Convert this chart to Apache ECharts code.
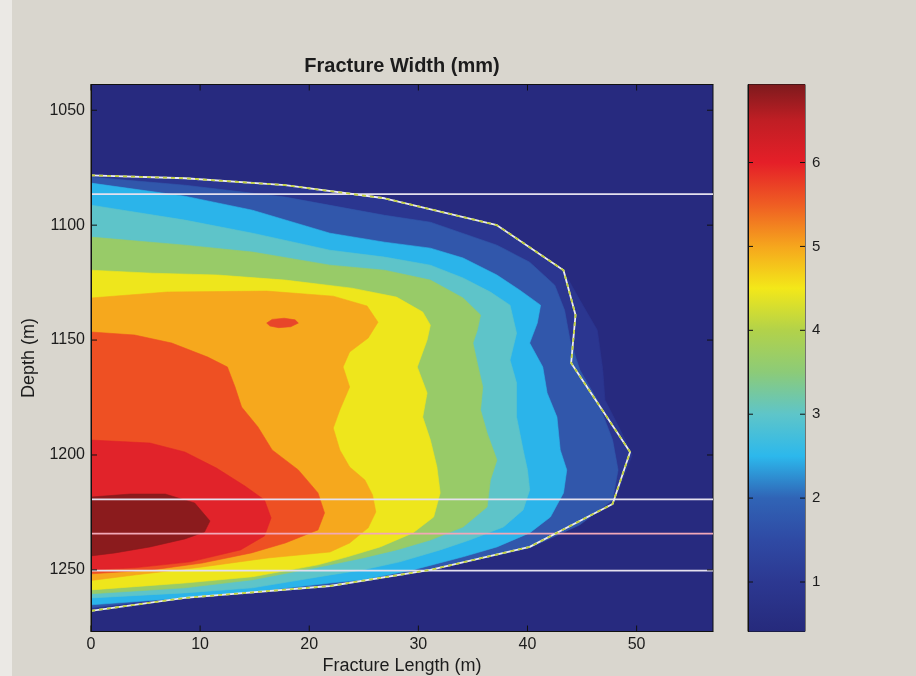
<!DOCTYPE html>
<html><head><meta charset="utf-8">
<script src="https://cdn.jsdelivr.net/npm/echarts@6/dist/echarts.min.js"></script>
<style>html,body{margin:0;padding:0;background:#d9d6ce}#c{width:916px;height:676px}</style>
</head><body><div id="c"></div>
<script>
// ---- axes / ticks ----
const xTicks = [0, 10, 20, 30, 40, 50];
const yTicks = [1050, 1100, 1150, 1200, 1250];
const cbTicks = [1, 2, 3, 4, 5, 6];
const lengthRange = [0, 57];
const depthRange = [1038.8, 1276.8];
const widthRange = [0.41, 6.93];

// ---- contour band outlines [fracture length m, depth m] (width >= level) ----
const band1 = [[0,1078.5],[8.6,1080.0],[17.8,1083.0],[26.9,1088.7],[37.2,1100.4],[43.3,1120.0],[44.8,1132.6],[46.4,1145.7],[46.9,1163.0],[47.1,1176.1],[48.5,1189.0],[49.6,1200.0],[47.8,1221.7],[40.2,1240.4],[31.1,1250.0],[21.9,1257.0],[8.6,1262.2],[0,1267.6]];
const band2 = [[0,1079.1],[8.6,1082.6],[17.8,1087.8],[26.9,1095.7],[31.1,1098.7],[37.2,1108.7],[40.2,1116.1],[42.5,1126.1],[43.4,1137.0],[43.9,1150.0],[44.8,1163.0],[46.4,1176.1],[47.8,1193.5],[48.3,1206.5],[47.8,1219.6],[44.8,1230.4],[40.2,1240.4],[31.1,1250.0],[21.9,1256.5],[8.6,1261.7],[0,1266.5]];
const band3 = [[0,1081.7],[8.6,1087.4],[14.8,1093.5],[21.9,1103.5],[26.9,1107.4],[31.1,1110.0],[34.1,1114.3],[37.2,1121.7],[39.3,1128.3],[41.2,1134.8],[40.9,1142.6],[40.2,1151.3],[41.4,1161.7],[41.8,1173.0],[42.7,1183.5],[43.0,1197.8],[43.6,1206.5],[43.3,1216.5],[42.1,1227.0],[40.2,1233.9],[37.2,1240.0],[34.1,1244.3],[29.5,1250.0],[24.9,1254.3],[21.9,1255.7],[14.8,1259.6],[8.6,1262.2],[0,1265.2]];
const band4 = [[0,1091.3],[8.6,1097.8],[14.8,1103.5],[21.9,1110.9],[26.9,1113.9],[31.1,1117.4],[34.1,1123.0],[36.6,1129.1],[38.4,1134.8],[39.0,1147.0],[38.4,1158.7],[39.0,1168.7],[39.0,1183.5],[39.6,1197.8],[40.0,1206.5],[40.2,1215.2],[39.6,1223.9],[37.8,1231.3],[34.7,1237.0],[32.0,1241.3],[28.3,1246.5],[24.9,1250.0],[21.9,1252.2],[14.8,1257.8],[8.6,1260.0],[0,1262.2]];
const band5 = [[0,1105.2],[8.6,1108.7],[14.8,1111.7],[21.9,1117.4],[26.9,1119.6],[31.1,1123.9],[34.1,1131.7],[35.7,1139.1],[35.4,1145.7],[35.0,1151.3],[35.4,1160.0],[35.9,1170.4],[35.7,1180.4],[36.3,1190.4],[37.2,1202.2],[36.6,1210.9],[36.3,1222.6],[34.1,1231.3],[31.1,1237.0],[28.0,1241.3],[24.9,1244.8],[21.9,1247.8],[14.8,1254.3],[8.6,1257.8],[0,1260.4]];
const band6 = [[0,1119.6],[5.6,1120.9],[11.6,1121.7],[17.8,1123.9],[23.9,1127.4],[28.0,1131.3],[30.4,1137.8],[31.1,1143.5],[30.8,1150.0],[29.9,1161.7],[30.8,1173.0],[30.4,1183.5],[31.1,1193.5],[31.7,1205.2],[32.0,1216.5],[31.4,1227.0],[29.5,1233.9],[26.5,1240.0],[23.5,1244.3],[20.8,1247.8],[14.8,1253.0],[8.6,1255.7],[0,1258.7]];
const band7 = [[0,1131.7],[7.0,1129.1],[16.1,1128.7],[22.2,1130.9],[25.3,1135.2],[26.3,1142.2],[25.4,1149.1],[23.7,1155.2],[23.1,1161.7],[23.7,1170.4],[22.8,1180.4],[22.2,1188.3],[22.8,1197.8],[23.7,1205.2],[25.1,1210.9],[25.8,1217.4],[26.1,1224.8],[25.4,1231.7],[23.7,1238.3],[21.9,1242.2],[16.2,1244.8],[10.2,1248.7],[4.0,1252.2],[0,1254.6]];
const band8 = [[0,1146.5],[4.0,1147.8],[7.4,1151.3],[10.7,1157.4],[12.5,1161.7],[13.2,1170.4],[13.8,1179.1],[15.3,1187.8],[16.6,1197.8],[19.0,1206.5],[20.8,1216.5],[21.4,1225.2],[20.8,1232.6],[17.8,1238.3],[14.7,1242.6],[10.2,1247.0],[5.6,1250.0],[0,1251.7]];
const band9 = [[0,1193.5],[5.4,1194.8],[8.6,1198.7],[11.5,1205.7],[14.1,1213.5],[15.9,1219.6],[16.5,1227.4],[15.9,1235.2],[13.7,1241.3],[9.1,1246.5],[4.0,1249.1],[0,1250.0]];
const band10 = [[0,1218.3],[3.6,1217.0],[6.8,1217.0],[9.5,1220.9],[10.9,1228.7],[10.4,1233.5],[8.6,1236.5],[5.4,1240.0],[2.2,1242.6],[0,1243.9]];
const redSpot = [[16.1,1142.6],[16.6,1141.0],[17.7,1140.5],[18.7,1141.2],[19.0,1142.6],[18.3,1144.2],[17.2,1144.6],[16.4,1143.9]];
const bandColors = ['#2b3690','#3157ab','#2bb4ea','#5ec4c9','#98cb68','#eee61c','#f6a81d','#ee5023','#e1232a','#8b1b1d','#e8462a'];
const backgroundColor = '#272a7f';

// ---- model outline (dashed) ----
const outlineLength = [0,8.6,17.8,26.9,37.2,43.3,44.4,44.0,49.4,47.8,40.2,31.1,21.9,8.6,0];
const outlineDepth  = [1078.3,1079.6,1082.6,1088.3,1100.0,1119.6,1139.1,1160.0,1198.7,1221.3,1240.0,1250.0,1257.0,1262.2,1267.8];

// ---- horizontal layer lines ----
const layerDepths = [1086.5, 1219.3, 1234.2, 1250.3];
const layerColors = ['#e4e0ee', '#e4e0ee', '#f2a8b8', '#e4e0ee'];

// ---- colour bar (washed jet) ----
const cbStopValues = [0.41, 1.0, 1.5, 2.0, 2.5, 3.0, 3.5, 4.0, 4.5, 5.0, 5.5, 6.0, 6.5, 6.93];
const cbStopColors = ['#262a7c','#2c3891','#2f4aa4','#3064b6','#2cb8ec','#5ec5c9','#8ccb78','#b2d24a','#f3e819','#f6a61d','#ef5d23','#e51f28','#c01e24','#7e1a1d'];

const bands = [band1, band2, band3, band4, band5, band6, band7, band8, band9, band10, redSpot];

const FONT = '"Liberation Sans", Arial, sans-serif';
const TXT = '#1c1c1c';
const TICK = '#111';
const chart = echarts.init(document.getElementById('c'));

const series = [];
series.push({
  type: 'custom', xAxisIndex: 0, yAxisIndex: 0, clip: true, silent: true,
  data: bands.map((b, i) => [b[0][0], b[0][1], i]),
  renderItem: (params, api) => {
    const i = params.dataIndex;
    return { type: 'polygon', shape: { points: bands[i].map(p => api.coord(p)) },
             style: { fill: bandColors[i], stroke: bandColors[i], lineWidth: 0.6 } };
  }
});
layerDepths.forEach((d, i) => series.push({
  type: 'line', xAxisIndex: 0, yAxisIndex: 0, symbol: 'none', silent: true,
  data: [[lengthRange[0], d], [lengthRange[1], d]],
  lineStyle: { color: layerColors[i], width: 1.6 }
}));
const outlineData = outlineLength.map((x, i) => [x, outlineDepth[i]]);
series.push({ type: 'line', xAxisIndex: 0, yAxisIndex: 0, symbol: 'none', silent: true,
  data: outlineData, lineStyle: { color: '#ecebf2', width: 1.8 } });
series.push({ type: 'line', xAxisIndex: 0, yAxisIndex: 0, symbol: 'none', silent: true,
  data: outlineData, lineStyle: { color: '#c2d23c', width: 1.8, type: [4, 4] } });
// colour bar
series.push({
  type: 'custom', xAxisIndex: 2, yAxisIndex: 2, silent: true, clip: false,
  data: [[0, widthRange[0]]],
  renderItem: (params, api) => {
    const p0 = api.coord([0, widthRange[1]]);
    const p1 = api.coord([1, widthRange[0]]);
    const span = widthRange[1] - widthRange[0];
    const stops = cbStopValues.map((v, i) => ({ offset: (v - widthRange[0]) / span, color: cbStopColors[i] }));
    return { type: 'rect', shape: { x: p0[0], y: p0[1], width: p1[0] - p0[0], height: p1[1] - p0[1] },
             style: { fill: new echarts.graphic.LinearGradient(0, 1, 0, 0, stops) } };
  }
});
// inward (MATLAB style) ticks on the plot box: side 0 bottom, 1 top, 2 left, 3 right
const boxTicks = [].concat(xTicks.map(v => [v, 0]), xTicks.map(v => [v, 1]), yTicks.map(v => [v, 2]), yTicks.map(v => [v, 3]));
series.push({
  type: 'custom', xAxisIndex: 0, yAxisIndex: 0, silent: true, clip: false, z: 20,
  data: boxTicks,
  renderItem: (params, api) => {
    const v = api.value(0), side = api.value(1), L = 6;
    let p, q;
    if (side === 0) { p = api.coord([v, depthRange[1]]); q = [p[0], p[1] - L]; }
    else if (side === 1) { p = api.coord([v, depthRange[0]]); q = [p[0], p[1] + L]; }
    else if (side === 2) { p = api.coord([lengthRange[0], v]); q = [p[0] + L, p[1]]; }
    else { p = api.coord([lengthRange[1], v]); q = [p[0] - L, p[1]]; }
    return { type: 'line', shape: { x1: p[0], y1: p[1], x2: q[0], y2: q[1] }, style: { stroke: TICK, lineWidth: 1 } };
  }
});
// inward ticks on both sides of the colour bar
const cbBoxTicks = [].concat(cbTicks.map(v => [0, v]), cbTicks.map(v => [1, v]));
series.push({
  type: 'custom', xAxisIndex: 2, yAxisIndex: 2, silent: true, clip: false, z: 20,
  data: cbBoxTicks,
  renderItem: (params, api) => {
    const side = api.value(0), p = api.coord([side, api.value(1)]), L = 5;
    const q = [p[0] + (side === 0 ? L : -L), p[1]];
    return { type: 'line', shape: { x1: p[0], y1: p[1], x2: q[0], y2: q[1] }, style: { stroke: TICK, lineWidth: 1 } };
  }
});

const lineStyle = { color: TICK, width: 1 };
const lblStyle = { fontFamily: FONT, color: TXT, fontSize: 16, formatter: v => String(v) };
chart.setOption({
  backgroundColor: '#d9d6ce',
  animation: false,
  grid: [
    { left: 91, top: 84.5, width: 622, height: 547, outerBoundsMode: 'none', containLabel: false, show: true, backgroundColor: backgroundColor, borderColor: '#111', borderWidth: 1 },
    { left: 748, top: 84.5, width: 57, height: 547, outerBoundsMode: 'none', containLabel: false, show: true, backgroundColor: 'transparent', borderColor: '#111', borderWidth: 1 }
  ],
  xAxis: [
    { gridIndex: 0, type: 'value', z: 10, min: lengthRange[0], max: lengthRange[1], position: 'bottom',
      axisLine: { show: true, lineStyle: lineStyle }, splitLine: { show: false }, axisTick: { show: false },
      axisLabel: Object.assign({ customValues: xTicks, margin: 5 }, lblStyle),
      name: 'Fracture Length (m)', nameLocation: 'middle', nameGap: 23,
      nameTextStyle: { fontFamily: FONT, color: TXT, fontSize: 18 } },
    { gridIndex: 0, type: 'value', z: 10, min: lengthRange[0], max: lengthRange[1], position: 'top',
      axisLine: { show: true, lineStyle: lineStyle }, splitLine: { show: false }, axisTick: { show: false },
      axisLabel: { show: false } },
    { gridIndex: 1, type: 'value', min: 0, max: 1, show: false }
  ],
  yAxis: [
    { gridIndex: 0, type: 'value', z: 10, inverse: true, min: depthRange[0], max: depthRange[1], position: 'left',
      axisLine: { show: true, lineStyle: lineStyle }, splitLine: { show: false }, axisTick: { show: false },
      axisLabel: Object.assign({ customValues: yTicks, margin: 6 }, lblStyle),
      name: 'Depth (m)', nameLocation: 'middle', nameGap: 45, nameRotate: 90,
      nameTextStyle: { fontFamily: FONT, color: TXT, fontSize: 18 } },
    { gridIndex: 0, type: 'value', z: 10, inverse: true, min: depthRange[0], max: depthRange[1], position: 'right',
      axisLine: { show: true, lineStyle: lineStyle }, splitLine: { show: false }, axisTick: { show: false },
      axisLabel: { show: false } },
    { gridIndex: 1, type: 'value', z: 10, min: widthRange[0], max: widthRange[1], position: 'right',
      axisLine: { show: true, lineStyle: lineStyle }, splitLine: { show: false }, axisTick: { show: false },
      axisLabel: Object.assign({ customValues: cbTicks, margin: 7 }, lblStyle, { fontSize: 15 }) },
    { gridIndex: 1, type: 'value', z: 10, min: widthRange[0], max: widthRange[1], position: 'left',
      axisLine: { show: true, lineStyle: lineStyle }, splitLine: { show: false }, axisTick: { show: false },
      axisLabel: { show: false } }
  ],
  graphic: [
    { type: 'rect', left: 0, top: 0, z: -10, shape: { width: 12, height: 676 }, style: { fill: '#ebe9e5' } },
    { type: 'text', x: 402, y: 66, style: { text: 'Fracture Width (mm)', font: 'bold 20px ' + FONT, fill: TXT, align: 'center', verticalAlign: 'middle' } }
  ],
  series: series
});
</script></body></html>
